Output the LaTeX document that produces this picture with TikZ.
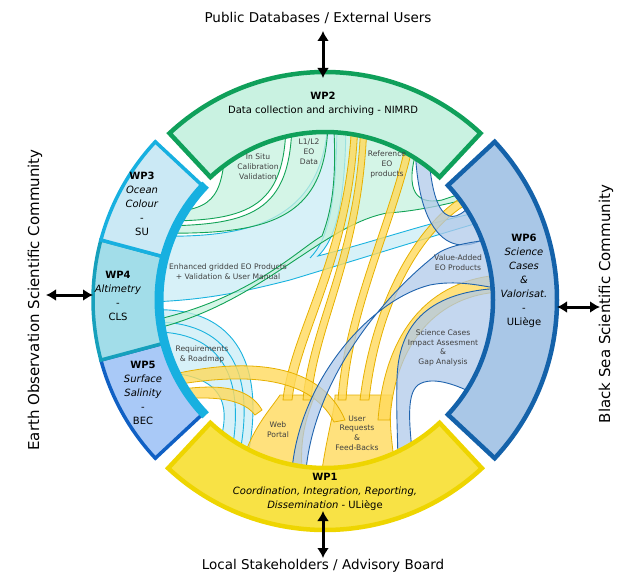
\documentclass[tikz,border=0pt]{standalone}
\usepackage{fontspec}
\setmainfont{DejaVu Sans}
\usetikzlibrary{arrows.meta,calc}
\definecolor{gline}{HTML}{12A356}
\definecolor{gfill}{HTML}{C6F1DF}
\definecolor{cline}{HTML}{1AB3DF}
\definecolor{cfill}{HTML}{CDEEF6}
\definecolor{yline}{HTML}{E6B000}
\definecolor{yfill}{HTML}{FFDA5C}
\definecolor{bline}{HTML}{1F63AD}
\definecolor{bfill}{HTML}{B0C9E9}
\definecolor{wptwo}{HTML}{C9F2E1}
\definecolor{wptwoB}{HTML}{0FA05A}
\definecolor{wpsix}{HTML}{A9C7E7}
\definecolor{wpsixB}{HTML}{1462AA}
\definecolor{wpone}{HTML}{F8E245}
\definecolor{wponeB}{HTML}{EED500}
\definecolor{wpthree}{HTML}{CBE9F5}
\definecolor{wpthreeB}{HTML}{17B0E0}
\definecolor{wpfour}{HTML}{A2DDE9}
\definecolor{wpfourB}{HTML}{16A0BC}
\definecolor{wpfive}{HTML}{A9C9F7}
\definecolor{wpfiveB}{HTML}{1060C4}
\begin{document}
\begin{tikzpicture}[x=1pt,y=-1pt,
  gflow/.style={draw=gline, fill=gfill, line width=0.9pt, fill opacity=0.75},
  cflow/.style={draw=cline, fill=cfill, line width=0.9pt, fill opacity=0.8},
  yflow/.style={draw=yline, fill=yfill, line width=0.8pt, fill opacity=0.8},
  bflow/.style={draw=bline, fill=bfill, line width=0.9pt, fill opacity=0.75},
  seg/.style={line width=4.5pt, line join=miter},
  wplab/.style={align=center, font=\fontsize{10}{14}\selectfont, inner sep=0pt},
  inlab/.style={align=center, font=\fontsize{7.6}{9.8}\selectfont, text=black!75, inner sep=0pt},
  outlab/.style={font=\fontsize{13.5}{16}\selectfont, inner sep=0pt},
  sidelab/.style={font=\fontsize{15}{17}\selectfont, inner sep=0pt, rotate=90},
  dblarrow/.style={line width=3pt, {Latex[length=10pt,width=12pt]}-{Latex[length=10pt,width=12pt]}}]
\useasboundingbox (0,0) rectangle (618,575);
\coordinate (C) at (325,300);

% ---------- cyan flows ----------
\path[cflow] (150,236) .. controls (235,238) and (326,230) .. (328,115) -- (346,115) .. controls (346,205) and (335,240) .. (318,256) .. controls (380,240) and (430,222) .. (480,212) -- (481,222) .. controls (420,240) and (330,268) .. (290,280) .. controls (250,290) and (210,300) .. (150,302) -- cycle;
\draw[cline, line width=0.9pt] (337,115) .. controls (337,205) and (328,240) .. (310,258);
\path[cflow] (150,310) .. controls (240,305) and (265,370) .. (248,455) -- (218,448) .. controls (236,395) and (215,372) .. (150,372) -- cycle;
\draw[cline, line width=0.9pt] (150,322) .. controls (230,320) and (255,372) .. (240,452);
\draw[cline, line width=0.9pt] (150,332) .. controls (222,330) and (245,378) .. (232,450);

% ---------- green flows ----------
\path[gflow] (333,112) -- (420,140) .. controls (404,185) and (412,206) .. (442,200) -- (478,188) -- (478,196) .. controls (435,208) and (405,212) .. (387,213) .. controls (320,226) and (260,305) .. (150,330) -- (150,321) .. controls (250,300) and (300,248) .. (322,236) .. controls (336,200) and (336,160) .. (333,112) -- cycle;
\path[gflow] (226,140) .. controls (222,200) and (215,213) .. (150,212) -- (150,221) .. controls (245,222) and (286,212) .. (286,120) -- cycle;
\path[gflow] (292,118) .. controls (292,215) and (250,226) .. (150,226) -- (150,233) .. controls (262,235) and (328,225) .. (328,118) -- cycle;

% ---------- yellow flows ----------
\path[yflow] (240,470) .. controls (250,430) and (270,410) .. (280,395) -- (315,395) .. controls (305,420) and (300,440) .. (302,470) -- cycle;
\path[yflow] (322,470) .. controls (328,430) and (335,410) .. (335,395) -- (392,395) .. controls (388,420) and (392,440) .. (395,470) -- cycle;
\path[yflow] (352,110) .. controls (350,250) and (290,330) .. (283,400) -- (292,400) .. controls (300,330) and (358,250) .. (358,110) -- cycle;
\path[yflow] (361,110) .. controls (360,250) and (310,320) .. (303,400) -- (311,400) .. controls (318,320) and (367,250) .. (367,110) -- cycle;
\path[yflow] (410,120) .. controls (400,200) and (345,300) .. (338,400) -- (346,400) .. controls (352,300) and (408,200) .. (417,120) -- cycle;
\path[yflow] (475,190) .. controls (420,215) and (372,300) .. (360,400) -- (369,400) .. controls (380,300) and (425,222) .. (478,198) -- cycle;
\path[yflow] (500,275) .. controls (430,280) and (385,330) .. (378,420) -- (390,420) .. controls (395,340) and (440,295) .. (500,292) -- cycle;
\path[yflow] (150,380) .. controls (240,355) and (320,360) .. (345,420) -- (334,422) .. controls (310,375) and (240,370) .. (150,390) -- cycle;
\path[yflow] (150,394) .. controls (200,385) and (245,380) .. (262,410) -- (255,415) .. controls (240,395) and (200,395) .. (150,403) -- cycle;

% ---------- blue flows ----------
\path[bflow] (415,135) .. controls (415,260) and (470,260) .. (500,225) -- (478,195) .. controls (455,230) and (430,230) .. (428,135) -- cycle;
\path[bflow] (505,238) .. controls (470,242) and (445,245) .. (432,258) .. controls (380,300) and (315,380) .. (306,470) -- (292,470) .. controls (300,380) and (370,300) .. (430,285) .. controls (455,280) and (480,285) .. (505,290) -- cycle;
\path[bflow] (505,288) .. controls (440,290) and (398,315) .. (397,380) .. controls (396,415) and (398,440) .. (398,470) -- (414,470) .. controls (410,430) and (405,395) .. (418,385) .. controls (432,375) and (460,385) .. (485,400) -- cycle;

% ---------- segments ----------
\draw[seg, draw=wptwoB, fill=wptwo] ($(C)+(227:168)$) arc (227:313:168) -- ($(C)+(313:228)$) arc (313:227:228) -- cycle;
\draw[seg, draw=wpsixB, fill=wpsix] ($(C)+(-43:168)$) arc (-43:43:168) -- ($(C)+(43:232)$) arc (43:-43:232) -- cycle;
\draw[seg, draw=wponeB, fill=wpone] ($(C)+(47:168)$) arc (47:133:168) -- ($(C)+(133:230)$) arc (133:47:230) -- cycle;
\draw[seg, line width=3.5pt, draw=wpfiveB, fill=wpfive] ($(C)+(137:168)$) arc (137:165:168) -- ($(C)+(165:232)$) arc (165:137:232) -- cycle;
\draw[seg, line width=3.5pt, draw=wpfourB, fill=wpfour] ($(C)+(165:168)$) arc (165:195:168) -- ($(C)+(195:232)$) arc (195:165:232) -- cycle;
\draw[seg, line width=3.5pt, draw=wpthreeB, fill=wpthree] ($(C)+(195:168)$) arc (195:223:168) -- ($(C)+(223:232)$) arc (223:195:232) -- cycle;
\draw[line width=9pt, draw=wpthreeB] ($(C)+(136:166)$) arc (136:224:166);

% ---------- segment labels ----------
\node[wplab] (wp2) at (323,103.5) {\textbf{WP2}\\Data collection and archiving - NIMRD};
\node[wplab] (wp1) at (325,492) {\textbf{WP1}\\\textit{Coordination, Integration, Reporting,}\\\textit{Dissemination} - ULiège};
\node[wplab] (wp6) at (524,281) {\textbf{WP6}\\\textit{Science}\\\textit{Cases}\\\textit{\&}\\\textit{Valorisat.}\\-\\ULiège};
\node[wplab] (wp3) at (142,204) {\textbf{WP3}\\\textit{Ocean}\\\textit{Colour}\\-\\SU};
\node[wplab] (wp4) at (118,296) {\textbf{WP4}\\\textit{Altimetry}\\-\\CLS};
\node[wplab] (wp5) at (143,393) {\textbf{WP5}\\\textit{Surface}\\\textit{Salinity}\\-\\BEC};

% ---------- inner labels ----------
\node[inlab] (insitu) at (258,166.5) {In Situ\\Calibration\\Validation};
\node[inlab] (lonel) at (309,151.5) {L1/L2\\EO\\Data};
\node[inlab] (refeo) at (387,164.5) {Reference\\EO\\products};
\node[inlab] (enh) at (228,272) {Enhanced gridded EO Products\\+ Validation \& User Manual};
\node[inlab] (req) at (202,354) {Requirements\\\& Roadmap};
\node[inlab] (web) at (278,430) {Web\\Portal};
\node[inlab] (usr) at (357,433) {User\\Requests\\\&\\Feed-Backs};
\node[inlab] (vad) at (458,263) {Value-Added\\EO Products};
\node[inlab] (sci) at (443,348) {Science Cases\\Impact Assesment\\\&\\Gap Analysis};

% ---------- outer labels and arrows ----------
\node[outlab] (top) at (318,18) {Public Databases / External Users};
\node[outlab] (bot) at (323,566) {Local Stakeholders / Advisory Board};
\node[sidelab] (left) at (35,300) {Earth Observation Scientific Community};
\node[sidelab] (right) at (606,304) {Black Sea Scientific Community};
\coordinate (ta) at (323,31);
\coordinate (tb) at (323,78);
\coordinate (ba) at (323,511);
\coordinate (bb) at (323,558);
\coordinate (la) at (46,295);
\coordinate (lb) at (93,295);
\coordinate (ra) at (557,307);
\coordinate (rb) at (600,307);
\draw[dblarrow] (ta) -- (tb);
\draw[dblarrow] (ba) -- (bb);
\draw[dblarrow] (la) -- (lb);
\draw[dblarrow] (ra) -- (rb);
\end{tikzpicture}
\end{document}
